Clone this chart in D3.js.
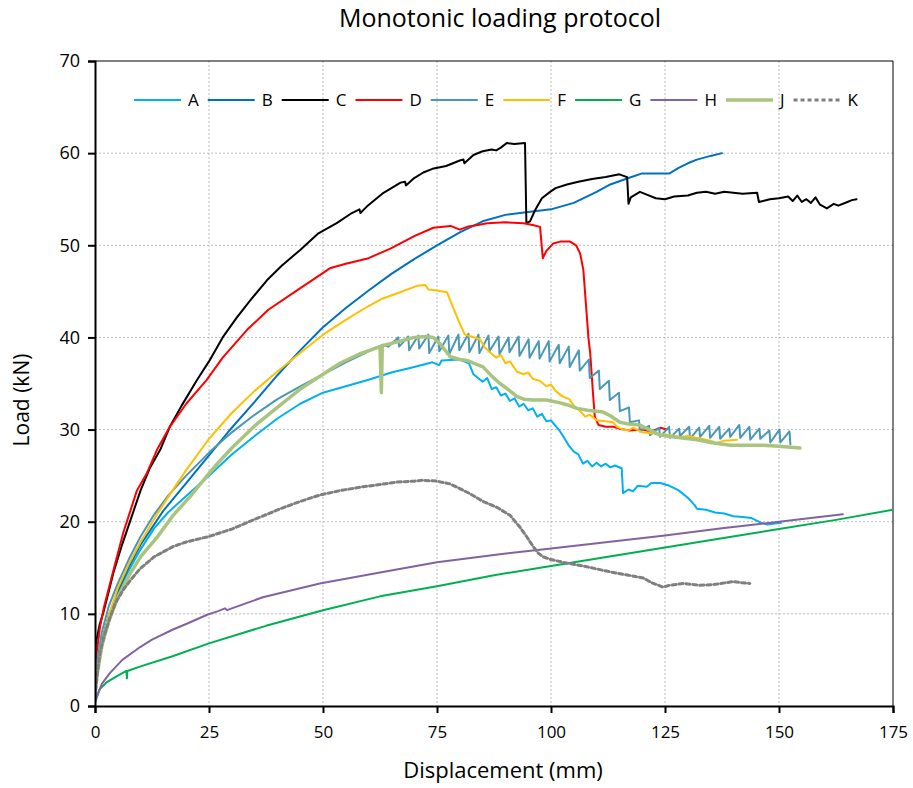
<!DOCTYPE html>
<html lang="en">
<head>
<meta charset="UTF-8">
<title>Monotonic loading protocol</title>
<style>
  body { margin: 0; background: #fff; }
  svg { display: block; font-family: "Open Sans", sans-serif; }
  .grid line { stroke: #bdbdbd; stroke-width: 1; stroke-dasharray: 2,2; }
  .series { fill: none; stroke-linejoin: round; stroke-linecap: round; }
</style>
</head>
<body>
<svg id="chart" width="913" height="788"></svg>
<script src="https://d3js.org/d3.v7.min.js"></script>
<script>
// specimen names, colours for the legend
const names = ["A", "B", "C", "D", "E", "F", "G", "H", "J", "K"];
const colors = ["#00b0f0", "#0070c0", "#000000", "#ff0000", "#4a98b5",
                "#ffc000", "#00b050", "#8064a2", "#a9c47f", "#7f7f7f"];
const xTicks = [0, 25, 50, 75, 100, 125, 150, 175];
const yTicks = [0, 10, 20, 30, 40, 50, 60, 70];

// [displacement mm, load kN]
const seriesA = [[0,1.5],[0.5,4],[1.5,7],[3,9.8],[5,12.3],[7.5,14.8],[10,17],[13,19.3],[16,21],
  [20,22.8],[25,25],[30,27.3],[35,29.3],[40,31.2],[45,32.8],[50,34],[55,34.7],[60,35.4],[65,36.2],
  [70,36.8],[74,37.3],[75.5,37.0],[76,37.5],[80,37.6],[82,37.2],[83,36.0],[84,35.6],[85,35.2],
  [86,35.6],[87,34.4],[88,34.6],[89,33.7],[90,33.9],[91,33.1],[92,33.4],[93,32.5],[94,32.8],
  [95,32.1],[96,32.3],[97,31.4],[98,31.7],[99,30.9],[100,31.0],[101,30.4],[102,29.8],[103,29.0],
  [104,28.2],[105,27.6],[106,27.3],[107,26.3],[108,26.6],[109,26.0],[110,26.4],[111,26.0],
  [112,26.3],[113,25.9],[114,26.1],[115.5,25.8],[115.8,23.1],[117,23.5],[118,23.3],[119,23.9],
  [121,23.8],[122,24.2],[124,24.2],[126,23.9],[128,23.4],[130,22.6],[131.5,21.8],[132,21.4],
  [134,21.3],[136,21.0],[138,20.9],[140,20.6],[142,20.5],[144,20.4],[146,19.9],[147.5,19.7],
  [149,19.8],[150.5,19.9]];

const seriesB = [[0,2],[0.5,4.5],[1.5,7],[3,9.8],[5,12.4],[7.5,15.2],[10,17.5],[15,21.2],
  [20,24.2],[25,27.2],[30,30.2],[35,33.0],[40,35.9],[45,38.6],[50,41.1],[55,43.2],[60,45.1],
  [65,46.9],[70,48.5],[75,50.0],[80,51.4],[85,52.6],[90,53.3],[95,53.6],[100,53.9],[105,54.6],
  [110,55.8],[113,56.6],[117,57.3],[120,57.8],[123,57.8],[126,57.8],[128,58.4],[130,58.9],
  [132,59.3],[135,59.7],[137.5,60.0]];

const seriesC = [[0,3],[0.2,6.8],[1,8.8],[1.8,10.1],[3,12.4],[4,14.4],[6,17.6],[8,20.5],
  [10,23.4],[12,25.8],[14.3,27.8],[16.4,30.3],[19,32.6],[22.4,35.4],[25,37.4],[28,40],
  [31,42.1],[34,44],[37.7,46.2],[41,47.8],[45,49.5],[49,51.3],[53,52.4],[56,53.4],[58,53.9],
  [58.2,53.5],[59.6,54.2],[63,55.6],[67,56.8],[68,56.9],[68.2,56.5],[70,57.3],[72,57.9],
  [74,58.3],[77,58.6],[80,59.2],[80.8,59.3],[81,58.9],[83,59.8],[85,60.2],[87,60.4],[88,60.3],
  [89,60.6],[90.3,61.1],[92,61.0],[94.3,61.1],[94.6,52.4],[95.4,52.6],[96.5,53.8],[98,55.1],
  [99.8,55.8],[101,56.2],[103.5,56.6],[106,56.9],[109,57.2],[112,57.4],[115,57.7],[116.7,57.4],
  [117,54.5],[117.5,55.2],[119.5,55.8],[121,55.5],[123,55.1],[125,55],[127,55.3],[130,55.4],
  [132,55.7],[134,55.8],[136,55.6],[138,55.8],[140,55.7],[142,55.6],[145.2,55.7],[145.6,54.7],
  [148,55.0],[150,55.1],[152,55.3],[153,54.8],[154,55.4],[155,54.7],[156,55.0],[157,54.6],
  [158,55.2],[159,54.4],[160.5,54.0],[162,54.5],[163,54.3],[165,54.7],[166,54.9],[167,55.0]];

const seriesD = [[0,3.9],[0.3,5.5],[1.1,8.6],[2,10.8],[3.3,13.3],[4.5,15.6],[6.2,18.8],
  [7.5,20.8],[9.2,23.4],[11.3,25.2],[13.6,27.8],[16.4,30.3],[20,32.8],[24.5,35.4],[28,37.8],
  [33.3,40.8],[38,43],[44.3,45.1],[51.5,47.5],[55,48.0],[60,48.6],[65,49.7],[70,51.0],
  [74.2,51.9],[78,52.1],[80,51.7],[81.6,52.0],[84,52.2],[86,52.4],[90,52.5],[94,52.4],
  [96,52.2],[97.6,52.0],[98.2,48.6],[99,49.4],[100.5,50.2],[102,50.4],[104.2,50.4],[105.5,50.0],
  [106.4,49.1],[107.1,47.3],[107.6,44],[108.2,40],[108.6,38.3],[109.2,34],[109.6,31.4],
  [110.4,30.5],[112,30.3],[113.7,30.3],[115,30.1],[117.3,29.9],[120,30.0],[122,29.8],
  [124,30.2],[125.4,30.0]];

const seriesE = [[0,2.5],[0.5,5],[1.5,8],[3,10.8],[5,13.3],[7.5,16],[10,18.4],[13,20.8],
  [16,22.8],[20,25],[25,27.5],[30,29.7],[35,31.6],[40,33.3],[45,34.7],[50,36],[55,37.3],
  [60,38.5],[63,39.2],[64.3,39.0],[66.5,40.0],[66.7,39.0],[68.7,40.1],[68.9,38.6],[70.9,40.2],
  [71.1,38.8],[73.1,40.3],[73.3,38.3],[75.3,40.1],[75.5,38.5],[77.5,40.2],[77.7,38.2],
  [79.7,40.3],[79.9,38.6],[81.9,40.4],[82.1,38.4],[84.1,40.3],[84.3,38.3],[86.3,40.2],
  [86.5,38.5],[88.5,40.1],[88.7,38.2],[90.7,40.0],[90.9,38.4],[92.9,40.1],[93.1,38.0],
  [95.1,39.8],[95.3,37.8],[97.3,39.6],[97.5,37.7],[99.5,39.6],[99.7,37.4],[101.7,39.2],
  [101.9,37.2],[103.9,39.0],[104.1,36.8],[106.1,38.6],[106.3,36.4],[108.3,37.6],[108.5,35.6],
  [110.5,36.4],[110.7,34.4],[112.7,35.3],[112.9,33.2],[114.9,34.0],[115.1,32.0],[117.1,32.4],
  [117.3,30.8],[119.3,31.0],[119.5,29.8],[121.5,30.4],[121.7,29.4],[123.7,30.2],[123.9,29.2],
  [125.9,30.3],[126.1,29.1],[128.1,30.1],[128.3,29.3],[130.3,30.3],[130.5,29.0],[132.5,30.2],
  [132.7,29.2],[134.7,30.4],[134.9,29.1],[136.9,30.3],[137.1,29.0],[139.1,30.1],[139.3,29.2],
  [141.3,30.5],[141.5,29.1],[143.5,30.3],[143.7,28.9],[145.7,30.1],[145.9,29.0],[147.9,29.9],
  [148.1,28.6],[150.1,30.0],[150.3,28.6],[152.3,29.8],[152.5,28.4]];

const seriesF = [[0,2],[0.5,4],[1.5,6.8],[3,9.8],[5,12.8],[7.5,15.5],[10,17.8],[13.6,20.8],
  [17,23.4],[20,25.6],[25,29.0],[30,31.8],[35,34.2],[40,36.3],[45,38.3],[50,40.3],[55,41.9],
  [59.6,43.3],[63,44.2],[66.9,44.9],[70.6,45.6],[72.4,45.7],[73.1,45.2],[75,45.1],[77.2,44.9],
  [78.5,43.3],[80,41.5],[81.1,40.3],[82.5,40.1],[84.4,39.8],[85.5,38.9],[86.6,38.4],[88,37.8],
  [89,38.1],[90,37.2],[91,37.4],[92.5,36.3],[94,36.0],[95,36.2],[96,35.5],[97.5,35.3],
  [99,34.7],[100,34.9],[101,34.2],[102.5,33.6],[104,33.3],[105,32.6],[106.4,32.0],[107.5,31.4],
  [108.5,31.6],[110,31.0],[112,30.9],[113.6,30.8],[114.5,30.3],[115.8,30.0],[117,29.9],
  [118,30.2],[120,29.7],[122,29.6],[124,29.5],[126,29.4],[128.3,29.2],[130,29.3],[132,29.1],
  [134,28.9],[135.5,28.7],[136,28.5],[138,28.8],[140.8,28.9]];

const seriesG = [[0,0.3],[0.4,1.0],[1,1.8],[2.6,2.6],[5,3.3],[6.9,3.8],[7,3.0],[7.1,3.8],
  [10,4.3],[17,5.4],[25,6.8],[37.5,8.7],[50,10.4],[62.5,11.9],[75,13.0],[87.5,14.2],
  [100,15.2],[112.5,16.2],[125,17.2],[137.5,18.2],[150,19.2],[162.5,20.2],[175,21.3]];

const seriesH = [[0,0.5],[0.4,1],[1.5,2.4],[3.3,3.6],[6,5],[9.9,6.4],[12.5,7.2],[17.1,8.3],
  [20,8.9],[24.6,9.9],[27,10.3],[28.5,10.6],[29,10.4],[30,10.6],[36.8,11.8],[49.3,13.3],
  [62.5,14.5],[75,15.6],[87.5,16.4],[100,17.1],[112.5,17.8],[125,18.5],[137.5,19.3],
  [150,20.0],[164,20.8]];

const seriesJ = [[0,1.5],[0.5,3.5],[1.5,6.5],[3,9.2],[5,11.8],[7.5,14.2],[10,16.2],[13.6,18.3],
  [17,20.6],[20.8,22.7],[24.6,25.0],[27,26.4],[30,28],[35,30.4],[40,32.4],[45,34.4],[50,36],
  [53.7,37.2],[58,38.2],[62.5,39.0],[62.8,34],[63,39.1],[66.9,39.6],[70,40.0],[72.8,40.1],
  [74.2,40.0],[75.5,39.4],[77.9,37.9],[80,37.6],[81.6,37.5],[83,37.2],[85.1,36.8],[87,35.8],
  [88.8,35.0],[90.5,34.4],[92.5,33.6],[94,33.3],[96.1,33.2],[99.1,33.2],[102,32.9],[103.5,32.7],
  [105.7,32.3],[108,32.1],[111.4,31.9],[113,31.5],[115.1,30.8],[117,30.6],[119.5,30.5],
  [121.5,30.0],[123.9,29.4],[127,29.2],[132,28.9],[135,28.6],[139.3,28.3],[146.5,28.3],
  [150,28.2],[154.6,28.0]];

const seriesK = [[0,1],[0.5,3.5],[1.1,5.8],[2,7.6],[3.3,9.6],[4.5,11.2],[6.2,12.6],[8,13.8],
  [9.9,14.9],[13,16.2],[17.1,17.3],[20,17.8],[25,18.4],[30,19.2],[33.3,19.9],[40.6,21.4],
  [45,22.2],[49.3,22.9],[54,23.4],[58.8,23.8],[62,24.0],[66.2,24.3],[70,24.4],[71.9,24.5],
  [75,24.4],[77.9,24.1],[80,23.6],[82,23.1],[85.1,22.2],[88,21.6],[91,20.7],[93.2,19.4],
  [94.5,18.5],[96.1,17.3],[97.2,16.6],[98.2,16.2],[100,15.9],[103.5,15.5],[107,15.2],
  [110.7,14.8],[114.5,14.4],[117,14.2],[120.2,13.9],[122,13.4],[124.6,12.9],[126,13.1],
  [129,13.3],[132.7,13.1],[136,13.2],[139.9,13.5],[141.5,13.4],[143.6,13.3]];

const allSeries = [seriesA, seriesB, seriesC, seriesD, seriesE, seriesF, seriesG, seriesH, seriesJ, seriesK];

const svg = d3.select("#chart");
const width = 913, height = 788;
const margin = {top: 61, right: 20, bottom: 82, left: 95};
const innerW = width - margin.left - margin.right;
const innerH = height - margin.top - margin.bottom;

const x = d3.scaleLinear().domain([0, 175]).range([0, innerW]);
const y = d3.scaleLinear().domain([0, 70]).range([innerH, 0]);

// line style per specimen
function widthOf(i) { return names[i] === "J" ? 3.5 : names[i] === "K" ? 3 : 2; }
function dashOf(i) { return names[i] === "K" ? "4,3" : null; }

// title
svg.append("text")
    .attr("x", 500).attr("y", 27)
    .attr("text-anchor", "middle")
    .attr("font-size", 25)
    .text("Monotonic loading protocol");

const g = svg.append("g").attr("transform", `translate(${margin.left},${margin.top})`);

g.append("clipPath").attr("id", "plot-clip")
  .append("rect").attr("width", innerW).attr("height", innerH);

// dotted gridlines
g.append("g").attr("class", "grid")
  .selectAll("line").data(xTicks.filter(d => d > 0 && d < 175)).enter()
  .append("line")
    .attr("x1", d => x(d)).attr("x2", d => x(d))
    .attr("y1", 0).attr("y2", innerH);
g.append("g").attr("class", "grid")
  .selectAll("line").data(yTicks.filter(d => d > 0 && d < 70)).enter()
  .append("line")
    .attr("x1", 0).attr("x2", innerW)
    .attr("y1", d => y(d)).attr("y2", d => y(d));

// plot border (top, right)
g.append("path")
    .attr("d", `M0,0H${innerW}V${innerH}`)
    .attr("fill", "none").attr("stroke", "#000").attr("stroke-width", 1);

// series
const line = d3.line().x(d => x(d[0])).y(d => y(d[1]));
g.append("g").attr("clip-path", "url(#plot-clip)")
  .selectAll("path").data(allSeries).enter()
  .append("path")
    .attr("class", "series")
    .attr("d", line)
    .attr("stroke", (d, i) => colors[i])
    .attr("stroke-width", (d, i) => widthOf(i))
    .attr("stroke-dasharray", (d, i) => dashOf(i))
    .attr("stroke-linecap", (d, i) => names[i] === "K" ? "butt" : "round");

// axes
const xAxis = g.append("g").attr("transform", `translate(0,${innerH})`)
    .call(d3.axisBottom(x).tickValues(xTicks).tickSize(7).tickPadding(13));
const yAxis = g.append("g")
    .call(d3.axisLeft(y).tickValues(yTicks).tickSize(7).tickPadding(8));
[xAxis, yAxis].forEach(a => {
  a.select(".domain").attr("stroke-width", 2);
  a.selectAll(".tick line").attr("stroke-width", 2);
  a.selectAll("text").attr("font-family", "'Open Sans', sans-serif").attr("fill", "#000");
});
xAxis.selectAll("text").attr("font-size", 17);
yAxis.selectAll("text").attr("font-size", 18);

// axis titles
svg.append("text")
    .attr("x", 503).attr("y", 778)
    .attr("text-anchor", "middle")
    .attr("font-size", 22)
    .text("Displacement (mm)");
svg.append("text")
    .attr("transform", "translate(29,400) rotate(-90)")
    .attr("text-anchor", "middle")
    .attr("font-size", 21)
    .text("Load (kN)");

// legend
const legend = svg.append("g").attr("transform", "translate(134,100)");
let lx = 0;
names.forEach((n, i) => {
  const item = legend.append("g").attr("transform", `translate(${lx},0)`);
  item.append("line")
      .attr("x1", 0).attr("x2", 47).attr("y1", 0).attr("y2", 0)
      .attr("stroke", colors[i])
      .attr("stroke-width", widthOf(i))
      .attr("stroke-dasharray", dashOf(i));
  const t = item.append("text")
      .attr("x", 54).attr("y", 6)
      .attr("font-size", 17)
      .text(n);
  lx += 54 + t.node().getComputedTextLength() + 9;
});
</script>
</body>
</html>
